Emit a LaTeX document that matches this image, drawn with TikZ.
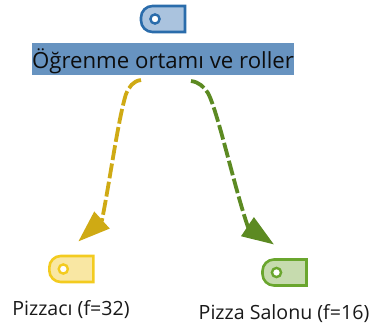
\documentclass[tikz,border=0pt]{standalone}
\usepackage{fontspec}
\setmainfont{Open Sans}
\usetikzlibrary{arrows.meta}
\definecolor{bluel}{HTML}{2A6CAB}\definecolor{bluef}{HTML}{AAC3DE}\definecolor{hl}{HTML}{6793C0}
\definecolor{yell}{HTML}{F3CB1F}\definecolor{yelf}{HTML}{F9E7A3}\definecolor{yelc}{HTML}{CFAA14}
\definecolor{grnl}{HTML}{6AA62E}\definecolor{grnf}{HTML}{C6DBAE}\definecolor{grnc}{HTML}{5C8A22}
\tikzset{
  tagbox/.style={minimum width=44pt,minimum height=26pt,inner sep=0pt,outer sep=0pt},
  lab/.style={inner sep=0pt,font=\fontsize{19.6}{23}\selectfont,text=black!90},
  conn/.style={line width=3.8pt,dash pattern=on 15pt off 3.5pt,
    -{Triangle[length=32pt,width=22pt,sep=0pt]}},
}
\newcommand{\tagshape}[3]{%
  \draw[line width=2.6pt,draw=#2,fill=#3]
    (#1.north east) -- (#1.south east) [rounded corners=11.5pt] -- (#1.south west) -- (#1.north west) [sharp corners] -- cycle;
  \draw[line width=2.4pt,draw=#2,fill=white] ([xshift=14pt]#1.west) circle[radius=4.6pt];}
\begin{document}
\begin{tikzpicture}[x=1pt,y=-1pt]
\useasboundingbox (0,0) rectangle (369,327);
\node[tagbox] (top) at (163,19) {};
\node[tagbox] (yel) at (71.3,269) {};
\node[tagbox] (grn) at (284.5,272.5) {};
\tagshape{top}{bluel}{bluef}
\tagshape{yel}{yell}{yelf}
\tagshape{grn}{grnl}{grnf}
\node[inner sep=0pt,outer sep=0pt,fill=hl,minimum width=262pt,minimum height=32pt,text depth=0pt] (title) at (163,59) {};
\node[inner sep=0pt,anchor=base,font=\fontsize{22.2}{26}\selectfont,text=black!95] (ttext) at (163,68) {Öğrenme ortamı ve roller};
\node[lab,anchor=base] (ylab) at (71,315) {Pizzacı (f=32)};
\node[lab,anchor=base] (glab) at (284,319) {Pizza Salonu (f=16)};
\coordinate (ys) at ([xshift=-22pt,yshift=-5pt]title.south);
\coordinate (gs) at ([xshift=28pt,yshift=-6pt]title.south);
\coordinate (yt) at ([xshift=7pt,yshift=14.5pt]yel.north);
\coordinate (gt) at ([xshift=-10.5pt,yshift=15pt]grn.north);
\coordinate (ya) at (102,220);
\coordinate (ga) at (248,227);
\draw[conn,draw=yelc] (ys) .. controls (133,81) and (129,87) .. (126,94)
  .. controls (118,120) and (110,180) .. (ya) -- (yt);
\draw[conn,draw=grnc] (gs) .. controls (199,82) and (204,87) .. (208,93)
  .. controls (218,112) and (235,190) .. (ga) -- (gt);
\end{tikzpicture}
\end{document}
